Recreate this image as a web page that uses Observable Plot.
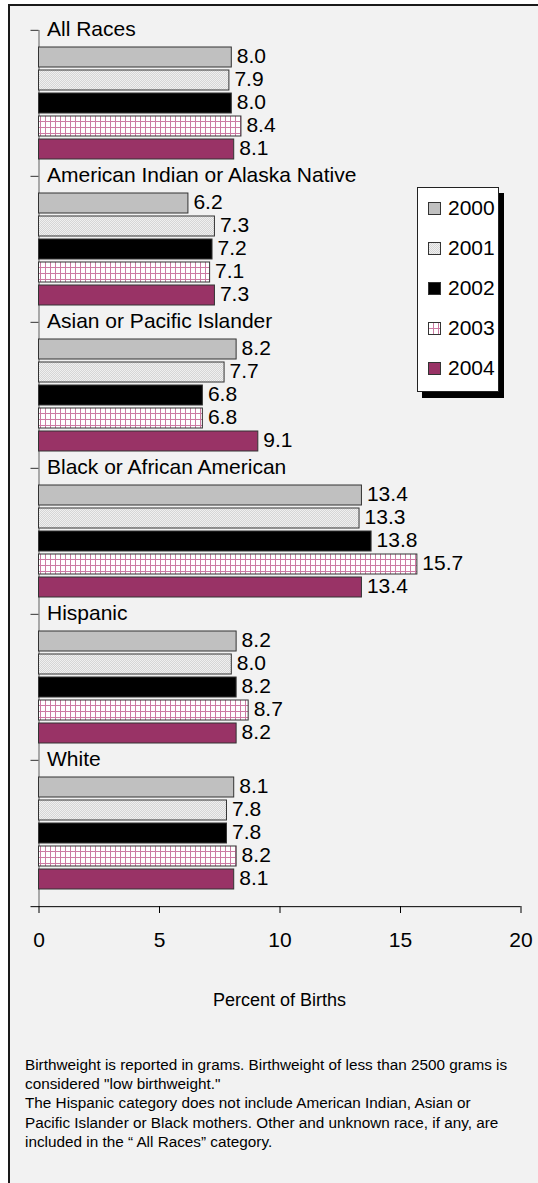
<!DOCTYPE html>
<html>
<head>
<meta charset="utf-8">
<script src="https://cdn.jsdelivr.net/npm/d3@7"></script>
<script src="https://cdn.jsdelivr.net/npm/@observablehq/plot@0.6"></script>
<style>
  html, body { margin: 0; padding: 0; background: #ffffff; }
  body { width: 538px; height: 1183px; position: relative; overflow: hidden; font-family: "Liberation Sans", Arial, sans-serif; color: #000; }
  #frame { position: absolute; left: 8px; top: 4px; right: 0; bottom: 0; border-top: 2px solid #1a1a1a; border-left: 2px solid #1a1a1a; background: #f2f2f2; }
  #chart { position: absolute; left: 0; top: 0; }
  #legend { position: absolute; left: 417px; top: 187px; width: 80px; height: 203px; background: #fff; border: 1px solid #222; box-shadow: 5px 6px 0 #000; }
  .entry { position: absolute; left: 10px; height: 24px; display: flex; align-items: center; font-size: 21px; }
  .entry svg { display: block; margin-right: 7px; }
  #xlabel { position: absolute; left: 38.5px; width: 482px; top: 989px; text-align: center; font-size: 18px; line-height: 22px; }
  #caption { position: absolute; left: 25px; top: 1055px; font-size: 15.3px; line-height: 19.2px; white-space: nowrap; }
</style>
</head>
<body>
<div id="frame"></div>
<div id="chart"></div>
<div id="legend"></div>
<div id="xlabel"></div>
<div id="caption"></div>
<script>
// ---- data ----
const races = ["All Races", "American Indian or Alaska Native", "Asian or Pacific Islander", "Black or African American", "Hispanic", "White"];
const years = ["2000", "2001", "2002", "2003", "2004"];
const v2000 = [8.0, 6.2, 8.2, 13.4, 8.2, 8.1];
const v2001 = [7.9, 7.3, 7.7, 13.3, 8.0, 7.8];
const v2002 = [8.0, 7.2, 6.8, 13.8, 8.2, 7.8];
const v2003 = [8.4, 7.1, 6.8, 15.7, 8.7, 8.2];
const v2004 = [8.1, 7.3, 9.1, 13.4, 8.2, 8.1];
const xTicks = [0, 5, 10, 15, 20];
const xLabel = "Percent of Births";
const captionLines = [
  "Birthweight is reported in grams.  Birthweight of less than 2500 grams is",
  "considered \"low birthweight.\"",
  "The Hispanic category does not include American Indian, Asian or",
  "Pacific Islander or Black mothers.  Other and unknown race, if any, are",
  "included in the \u201c All Races\u201d  category."
];

// ---- table ----
const series = [v2000, v2001, v2002, v2003, v2004];
const rows = races.flatMap((race, i) => years.map((year, j) => ({race, year, value: series[j][i]})));

// ---- styles ----
const fills = ["#c0c0c0", "url(#p2001)", "#000000", "url(#p2003)", "#993366"];
const W = 538, H = 960, mT = 29, mB = 53, mL = 38.5, mR = 17.5;
const fyStep = (H - mT - mB) / races.length;
const xMax = xTicks[xTicks.length - 1];

const plot = Plot.plot({
  width: W, height: H,
  marginTop: mT, marginBottom: mB, marginLeft: mL, marginRight: mR,
  style: {background: "transparent", fontFamily: "'Liberation Sans', Arial, sans-serif", color: "#000", overflow: "visible"},
  x: {domain: [0, xMax]},
  y: {domain: years, paddingInner: 0.11, paddingOuter: 0.668, axis: null},
  fy: {domain: races, padding: 0, axis: null},
  color: {type: "ordinal", domain: years, range: fills},
  marks: [
    Plot.ruleX([0], {stroke: "#777", strokeWidth: 1.2}),
    Plot.ruleY(races, {fy: d => d, y: null, x1: 0, x2: 0, insetLeft: -8, dy: -fyStep / 2, stroke: "#333"}),
    Plot.ruleY([races[races.length - 1]], {fy: d => d, y: null, x1: 0, x2: xMax, insetLeft: -8, dy: fyStep / 2, stroke: "#000"}),
    Plot.barX(rows, {fy: "race", y: "year", x: "value", fill: "year", stroke: "#333", strokeWidth: 1}),
    Plot.text(rows, {fy: "race", y: "year", x: "value", text: d => d.value.toFixed(1), textAnchor: "start", dx: 5, dy: -1, fontSize: 21, fill: "#000"}),
    Plot.text(races, {fy: d => d, text: d => d, frameAnchor: "top-left", lineAnchor: "middle", dx: 8, dy: -1, fontSize: 21, fill: "#000"}),
    Plot.axisX({ticks: xTicks, tickSize: 7, tickPadding: 19, fontSize: 21, label: null, stroke: "#000"})
  ]
});

// patterns
const defs = d3.select(plot).insert("defs", ":first-child");
const p1 = defs.append("pattern").attr("id", "p2001").attr("patternUnits", "userSpaceOnUse").attr("width", 2).attr("height", 2);
p1.append("rect").attr("width", 2).attr("height", 2).attr("fill", "#f0f0f0");
p1.append("rect").attr("x", 0).attr("y", 0).attr("width", 1).attr("height", 1).attr("fill", "#d6d6d6");
p1.append("rect").attr("x", 1).attr("y", 1).attr("width", 1).attr("height", 1).attr("fill", "#d6d6d6");
const p3 = defs.append("pattern").attr("id", "p2003").attr("patternUnits", "userSpaceOnUse").attr("width", 5).attr("height", 6);
p3.append("rect").attr("width", 5).attr("height", 6).attr("fill", "#ffffff");
p3.append("rect").attr("x", 0).attr("y", 0).attr("width", 1).attr("height", 6).attr("fill", "#cc7aa3");
p3.append("rect").attr("x", 0).attr("y", 0).attr("width", 5).attr("height", 1).attr("fill", "#cc7aa3");

document.getElementById("chart").appendChild(plot);

// legend
const legend = d3.select("#legend");
years.forEach((y, j) => {
  const e = legend.append("div").attr("class", "entry").style("top", (8 + j * 40) + "px");
  const s = e.append("svg").attr("width", 13).attr("height", 13);
  s.append("rect").attr("x", 0.5).attr("y", 0.5).attr("width", 12).attr("height", 12).attr("fill", fills[j]).attr("stroke", "#333");
  e.append("span").text(y);
});

document.getElementById("xlabel").textContent = xLabel;
document.getElementById("caption").innerHTML = captionLines.map(l => l.replace(/&/g, "&amp;").replace(/</g, "&lt;")).join("<br>");
</script>
</body>
</html>
